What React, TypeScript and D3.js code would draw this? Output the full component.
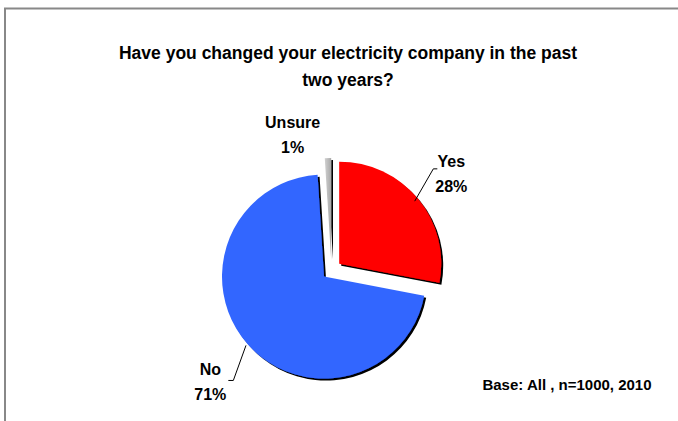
import React from "react";
import * as d3 from "d3";

const categories = ["Yes", "No", "Unsure"];
const values = [28, 71, 1];
const colors = ["#FF0000", "#3366FF", "#C0C0C0"];
const titleLines = ["Have you changed your electricity company in the past", "two years?"];
const baseNote = "Base: All , n=1000, 2010";

const W = 678;
const H = 421;
const FONT = "'Liberation Sans', Arial, sans-serif";

// layout config (not data)
const cx = 331.5;
const cy = 270;
const R = 102;
const EXPLODE = 10;
// label placement: [radius from centre, angle offset (rad)]
const labelPlace = [
  { r: 153, da: 0.02 },
  { r: 166, da: -0.03 },
  { r: 140, da: -0.25 },
];

export default function App() {
  const pie = d3.pie<number>().sort(null).startAngle(0).endAngle(2 * Math.PI);
  const arcs = pie(values);
  const arc = d3.arc<d3.PieArcDatum<number>>().innerRadius(0).outerRadius(R);

  const dir = (a: number) => [Math.sin(a), -Math.cos(a)];

  return (
    <div style={{ position: "fixed", left: 0, top: 0 }}>
      <svg width={W} height={H} style={{ display: "block", background: "#fff" }}>
        <defs>
          <filter id="sh" x="-20%" y="-20%" width="140%" height="140%">
            <feDropShadow dx="2" dy="2" stdDeviation="0.5" floodColor="#000" floodOpacity="1" />
          </filter>
          <linearGradient id="greyG" x1="0" x2="1" y1="0" y2="0">
            <stop offset="0" stopColor="#D0D0D0" />
            <stop offset="1" stopColor="#A8A8A8" />
          </linearGradient>
        </defs>
        <rect x={5} y={8.5} width={W + 10} height={H + 10} fill="#fff" stroke="#888" strokeWidth={2} />
        {titleLines.map((t, i) => (
          <text key={i} x={348} y={59 + i * 27} textAnchor="middle" fontFamily={FONT} fontWeight="bold" fontSize={17.5} fill="#000">
            {t}
          </text>
        ))}
        {arcs.map((a, i) => {
          const mid = (a.startAngle + a.endAngle) / 2;
          const [dx, dy] = dir(mid);
          const ox = cx + dx * EXPLODE;
          const oy = cy + dy * EXPLODE;
          return (
            <g key={categories[i]} transform={`translate(${ox},${oy})`} filter="url(#sh)">
              <path d={arc(a) || ""} fill={i === 2 ? "url(#greyG)" : colors[i]} />
            </g>
          );
        })}
        {arcs.map((a, i) => {
          const mid = (a.startAngle + a.endAngle) / 2;
          const la = mid + labelPlace[i].da;
          const [lx, ly] = dir(la);
          const x = cx + lx * labelPlace[i].r;
          const y = cy + ly * labelPlace[i].r;
          const [dx, dy] = dir(mid);
          let leader = null;
          if (i === 0) {
            const ex = cx + dx * (EXPLODE + R - 4);
            const ey = cy + dy * (EXPLODE + R - 4);
            const p = d3.path();
            p.moveTo(x - 14, y - 6);
            p.lineTo(x - 18, y - 6);
            p.lineTo(ex, ey);
            leader = <path d={p.toString()} fill="none" stroke="#000" strokeWidth={1} />;
          } else if (i === 1) {
            const ex = cx + dx * (EXPLODE + R + 2);
            const ey = cy + dy * (EXPLODE + R + 2);
            const p = d3.path();
            p.moveTo(x + 18, y - 3);
            p.lineTo(x + 23, y - 3);
            p.lineTo(ex, ey);
            leader = <path d={p.toString()} fill="none" stroke="#000" strokeWidth={1} />;
          }
          return (
            <g key={"l" + i}>
              {leader}
              <text x={x} y={y - 8} textAnchor="middle" fontFamily={FONT} fontWeight="bold" fontSize={16} fill="#000">
                {categories[i]}
              </text>
              <text x={x} y={y + 17} textAnchor="middle" fontFamily={FONT} fontWeight="bold" fontSize={16} fill="#000">
                {d3.format(".0f")(values[i])}%
              </text>
            </g>
          );
        })}
        <text x={567} y={390} textAnchor="middle" fontFamily={FONT} fontWeight="bold" fontSize={15} fill="#000">
          {baseNote}
        </text>
      </svg>
    </div>
  );
}
